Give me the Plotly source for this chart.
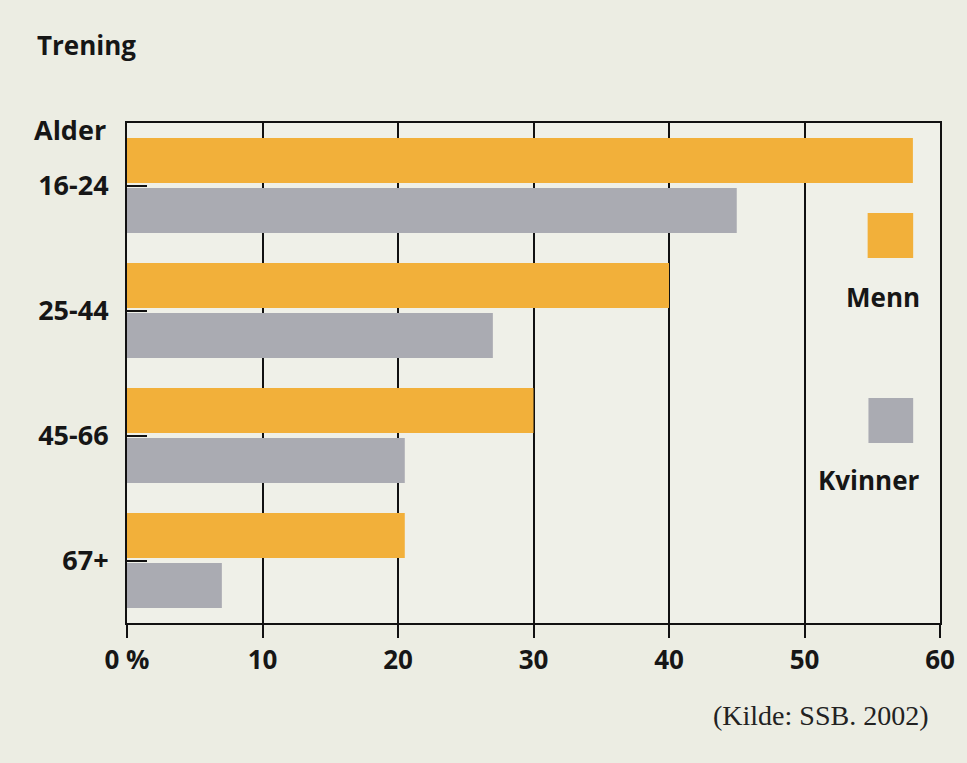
import plotly.graph_objects as go

categories = ["16-24", "25-44", "45-66", "67+"]
menn = [58, 40, 30, 20.5]
kvinner = [45, 27, 20.5, 7]
x_tickvals = [0, 10, 20, 30, 40, 50, 60]
x_ticktext = ["0 %", "10", "20", "30", "40", "50", "60"]

ORANGE = "#F2B03A"
GRAY = "#AAABB2"
PAPER = "#ECEDE3"
PLOTBG = "#EFF0E8"
INK = "#161616"
FONT = "Open Sans"

fig = go.Figure()
fig.add_trace(go.Bar(y=categories, x=menn, name="Menn", orientation="h",
                     marker=dict(color=ORANGE, line=dict(width=0)), offsetgroup="m"))
fig.add_trace(go.Bar(y=categories, x=kvinner, name="Kvinner", orientation="h",
                     marker=dict(color=GRAY, line=dict(width=0)), offsetgroup="k"))

fig.update_layout(
    width=967, height=763,
    margin=dict(l=127, r=27, t=123, b=140),
    paper_bgcolor=PAPER, plot_bgcolor=PLOTBG,
    barmode="group", bargap=0.2, bargroupgap=0.1,
    showlegend=False,
    font=dict(family=FONT, size=26, color=INK, weight="bold"),
    xaxis=dict(range=[0, 60], tickvals=x_tickvals, ticktext=x_ticktext,
               showgrid=True, gridcolor="#111111", gridwidth=1.6,
               zeroline=False, showline=True, linecolor="#111111", linewidth=2,
               mirror=True, ticks="outside", ticklen=13, tickwidth=2, tickcolor="#111111",
               tickfont=dict(family=FONT, size=26, color=INK, weight="bold"),
               fixedrange=True),
    yaxis=dict(autorange="reversed", showgrid=False, zeroline=False,
               showline=True, linecolor="#111111", linewidth=2, mirror=True,
               ticks="inside", ticklen=20, tickwidth=2, tickcolor="#111111",
               tickfont=dict(family=FONT, size=27, color=INK, weight="bold"),
               ticklabelstandoff=11, fixedrange=True),
)

# Legend squares and labels (drawn as in the source figure)
fig.add_shape(type="rect", xref="paper", yref="paper", x0=0.911, x1=0.967, y0=0.73, y1=0.82,
              fillcolor=ORANGE, line=dict(width=0))
fig.add_shape(type="rect", xref="paper", yref="paper", x0=0.912, x1=0.967, y0=0.36, y1=0.45,
              fillcolor=GRAY, line=dict(width=0))
fig.add_annotation(text="Menn", xref="paper", yref="paper", x=0.978, y=0.652,
                   xanchor="right", yanchor="middle", showarrow=False,
                   font=dict(family=FONT, size=26, color=INK, weight="bold"))
fig.add_annotation(text="Kvinner", xref="paper", yref="paper", x=0.978, y=0.286,
                   xanchor="right", yanchor="middle", showarrow=False,
                   font=dict(family=FONT, size=26, color=INK, weight="bold"))

# Titles
fig.add_annotation(text="Trening", xref="paper", yref="paper", x=0, xshift=-92, y=1, yshift=78,
                   xanchor="left", yanchor="middle", showarrow=False,
                   font=dict(family=FONT, size=26, color=INK, weight="bold"))
fig.add_annotation(text="Alder", xref="paper", yref="paper", x=0, xshift=-19, y=1, yshift=-6,
                   xanchor="right", yanchor="middle", showarrow=False,
                   font=dict(family=FONT, size=27, color=INK, weight="bold"))
fig.add_annotation(text="(Kilde: SSB. 2002)", xref="paper", yref="paper", x=0.988, y=-0.184,
                   xanchor="right", yanchor="middle", showarrow=False,
                   font=dict(family="Liberation Serif", size=28, color="#222222", weight="normal"))

fig.write_html("out.html")
